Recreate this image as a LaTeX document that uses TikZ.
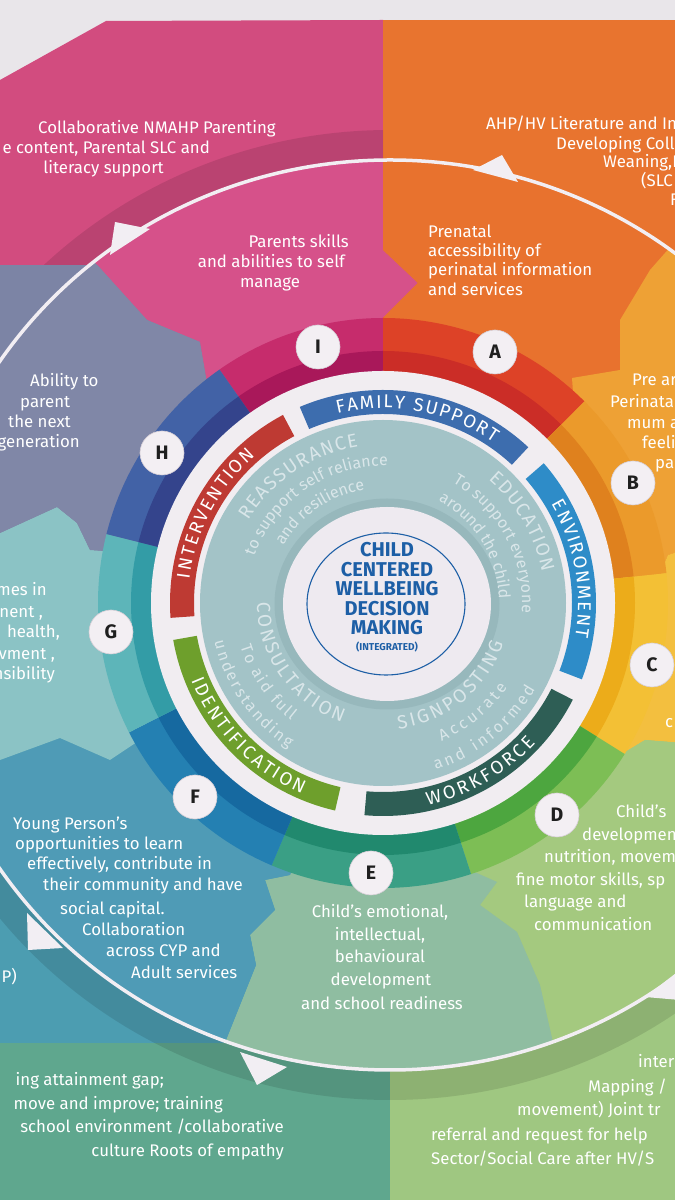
\documentclass[tikz,border=0pt]{standalone}
\usepackage{fontspec}
\setmainfont{Fira Sans}
\usetikzlibrary{decorations.text}
\definecolor{bgstrip}{HTML}{E9E6EA}
\definecolor{pinkout}{HTML}{D24C7F}
\definecolor{orangeout}{HTML}{E8742F}
\definecolor{greyout}{HTML}{7C84A5}
\definecolor{fout}{HTML}{4C9DB1}
\definecolor{eout}{HTML}{5FA78E}
\definecolor{dout}{HTML}{9FC781}
\definecolor{petI}{HTML}{D6518A}
\definecolor{petA}{HTML}{E8722E}
\definecolor{petB}{HTML}{EEA135}
\definecolor{petC}{HTML}{F3BF3F}
\definecolor{petD}{HTML}{A4C97F}
\definecolor{petE}{HTML}{8FBDA1}
\definecolor{petF}{HTML}{4F9BB6}
\definecolor{petG}{HTML}{8BC3C5}
\definecolor{petH}{HTML}{8087A7}
\definecolor{rIl}{HTML}{C62C6C}\definecolor{rId}{HTML}{A9185A}
\definecolor{rAl}{HTML}{DD4227}\definecolor{rAd}{HTML}{CB2D27}
\definecolor{rBl}{HTML}{EB9A2B}\definecolor{rBd}{HTML}{DF811E}
\definecolor{rCl}{HTML}{F3C035}\definecolor{rCd}{HTML}{ECAC1A}
\definecolor{rDl}{HTML}{7DBE55}\definecolor{rDd}{HTML}{4DA63F}
\definecolor{rEl}{HTML}{3A9F85}\definecolor{rEd}{HTML}{21896E}
\definecolor{rFl}{HTML}{2480B2}\definecolor{rFd}{HTML}{1669A0}
\definecolor{rGl}{HTML}{5DB5B9}\definecolor{rGd}{HTML}{339CA6}
\definecolor{rHl}{HTML}{4262A6}\definecolor{rHd}{HTML}{34448C}
\definecolor{diskwhite}{HTML}{F1EDF1}
\definecolor{tealring}{HTML}{A3C3C7}
\definecolor{tealshadow}{HTML}{8EAFB4}
\definecolor{centerfill}{HTML}{EEEAF0}
\definecolor{centerblue}{HTML}{1D5FA6}
\definecolor{bandFS}{HTML}{3D6DAE}
\definecolor{bandEN}{HTML}{2E8CC8}
\definecolor{bandWF}{HTML}{2E5E55}
\definecolor{bandID}{HTML}{6E9F2C}
\definecolor{bandIN}{HTML}{BE3A33}
\definecolor{tealtext}{HTML}{D9E6E9}
\definecolor{circfill}{HTML}{F3EFF3}
\definecolor{circline}{HTML}{D6CED6}
\definecolor{arrowwhite}{HTML}{F2EEF3}
\newcommand{\ptxt}{\fontsize{16.8}{20}\selectfont}
\newcommand{\bandfnt}{\fontsize{18.5}{19}\selectfont}
\newcommand{\bigfnt}{\fontsize{19}{20}\selectfont}
\newcommand{\subfnt}{\fontsize{16}{17}\selectfont}
\newcommand{\ringsec}[4]{%
  \fill[#3] (#1:285) arc[start angle=#1,end angle=#2,radius=285] -- (#2:230) arc[start angle=#2,end angle=#1,radius=230] -- cycle;
  \fill[#4] (#1:252) arc[start angle=#1,end angle=#2,radius=252] -- (#2:230) arc[start angle=#2,end angle=#1,radius=230] -- cycle;}
\newcommand{\bandsec}[3]{%
  \fill[#3] (#1:213) arc[start angle=#1,end angle=#2,radius=213] -- (#2:189) arc[start angle=#2,end angle=#1,radius=189] -- cycle;}
\newcommand{\outshadow}{\draw[black, opacity=0.11, line width=30pt] (390,615) ellipse [x radius=485, y radius=470];}
\tikzset{
  ptext/.style={text=white, font=\ptxt, inner sep=0pt},
  lettercircle/.style={circle, fill=circfill, draw=circline, line width=0.6pt, minimum size=44pt, inner sep=0pt, font=\bfseries\fontsize{19.5}{19.5}\selectfont, text=black!88},
  ctext/.style={anchor=base, text=centerblue, inner sep=0pt, font=\bfseries\fontsize{20}{20}\selectfont},
  arctext/.style 2 args={decorate, decoration={text along path, text={|#1|#2}, text align={fit to path}}},
  arrowtip/.style={fill=arrowwhite}
}
\begin{document}
\begin{tikzpicture}[x=1pt,y=1pt]
\useasboundingbox (0,0) rectangle (675,1200);
\clip (0,0) rectangle (675,1200);
% ---------- image-coordinate scope (y downward) ----------
\begin{scope}[shift={(0,1200)},yscale=-1]
  \fill[bgstrip] (0,0) rectangle (675,1200);
  \fill[pinkout] (0,80) -- (106,21) -- (383,20) -- (383,620) -- (0,620) -- cycle;
  \fill[orangeout] (383,20) -- (675,20) -- (675,620) -- (383,620) -- cycle;
  \fill[greyout] (0,265) rectangle (200,620);
  \fill[fout] (0,620) rectangle (390,1043);
  \fill[eout] (0,1043) rectangle (390,1200);
  \fill[dout] (390,700) rectangle (675,1200);
  % darker band just outside the big circle
  \begin{scope}
    \clip (0,80) -- (106,21) -- (383,20) -- (383,265) -- (0,265) -- cycle;
    \outshadow
  \end{scope}
  \begin{scope}
    \clip (0,620) rectangle (675,1200);
    \outshadow
  \end{scope}
  % petals
  \begin{scope}
    \clip (390,615) ellipse [x radius=470, y radius=455];
    \fill[petI] (383,603) -- (210,400) -- (200,342) -- (147,320) -- (100,268) -- (-100,60) -- (383,-100) -- (383,250) -- (418,283) -- (383,318) -- (383,330) -- cycle;
    \fill[petA] (383,603) -- (383,330) -- (383,318) -- (418,283) -- (383,250) -- (383,-100) -- (800,100) -- (650,270) -- (620,320) -- (620,370) -- (572,378) -- (575,420) -- cycle;
    \fill[petB] (383,603) -- (575,420) -- (572,378) -- (620,370) -- (620,320) -- (650,270) -- (800,100) -- (900,480) -- (668,555) -- (655,585) -- cycle;
    \fill[petC] (383,603) -- (655,585) -- (668,555) -- (900,480) -- (900,760) -- (645,740) -- (612,760) -- cycle;
    \fill[petD] (383,603) -- (612,760) -- (645,740) -- (900,760) -- (600,1250) -- (540,985) -- (517,932) -- (480,905) -- (497,882) -- (470,870) -- cycle;
    \fill[petE] (383,603) -- (470,870) -- (497,882) -- (480,905) -- (517,932) -- (540,985) -- (600,1250) -- (150,1250) -- (222,1050) -- (256,965) -- (250,935) -- (275,910) -- (265,880) -- (290,875) -- cycle;
    \fill[petF] (383,603) -- (290,875) -- (265,880) -- (275,910) -- (250,935) -- (256,965) -- (222,1050) -- (150,1250) -- (-200,820) -- (0,760) -- (60,738) -- (110,760) -- (140,740) -- cycle;
    \fill[petG] (383,603) -- (140,740) -- (110,760) -- (60,738) -- (0,760) -- (-200,820) -- (-200,530) -- (0,533) -- (57,507) -- (77,523) -- (90,550) -- (120,552) -- cycle;
    \fill[petH] (383,603) -- (120,552) -- (90,550) -- (77,523) -- (57,507) -- (0,533) -- (-200,530) -- (-100,60) -- (100,268) -- (147,320) -- (200,342) -- (210,400) -- cycle;
  \end{scope}
  \draw[arrowwhite, line width=3.5pt] (390,615) ellipse [x radius=470, y radius=455];
  \fill[arrowtip] (110,255) -- (150,229) -- (115,222) -- cycle;
  \fill[arrowtip] (473,170) -- (502,155) -- (518,182) -- cycle;
  \fill[arrowtip] (27,913) -- (28,950) -- (63,948) -- cycle;
  \fill[arrowtip] (240,1052) -- (287,1067) -- (257,1085) -- cycle;
  \fill[arrowtip] (645,997) -- (680,970) -- (680,1000) -- cycle;
\end{scope}
% ---------- circular scope centred on the wheel ----------
\begin{scope}[shift={(383,597)}]
  \ringsec{90}{125}{rIl}{rId}
  \ringsec{45}{90}{rAl}{rAd}
  \ringsec{6}{45}{rBl}{rBd}
  \ringsec{-32}{6}{rCl}{rCd}
  \ringsec{-72}{-32}{rDl}{rDd}
  \ringsec{-113}{-72}{rEl}{rEd}
  \ringsec{-153}{-113}{rFl}{rFd}
  \ringsec{166}{207}{rGl}{rGd}
  \ringsec{125}{166}{rHl}{rHd}
  \fill[diskwhite] (0,0) circle [radius=232];
  \bandsec{47}{113}{bandFS}
  \bandsec{-21}{41}{bandEN}
  \bandsec{-95}{-27}{bandWF}
  \bandsec{190}{257}{bandID}
  \bandsec{118}{184}{bandIN}
  \fill[tealring] (0,0) circle [radius=183];
  \draw[tealshadow, line width=9pt, opacity=0.55] (4,-1) ellipse [x radius=108, y radius=101];
  \fill[centerfill] (4,-1) ellipse [x radius=104, y radius=97];
  \draw[centerblue, line width=1.1pt] (3,-1) ellipse [x radius=79, y radius=71];
  % band labels
  \path[arctext={\color{white}\bandfnt}{FAMILY SUPPORT}] (103.5:195) arc [start angle=103.5, end angle=55.5, radius=195];
  \path[arctext={\color{white}\bandfnt}{ENVIRONMENT}] (30.5:195) arc [start angle=30.5, end angle=-10, radius=195];
  \path[arctext={\color{white}\bandfnt}{WORKFORCE}] (-77.5:207) arc [start angle=-77.5, end angle=-42.5, radius=207];
  \path[arctext={\color{white}\bandfnt}{IDENTIFICATION}] (202:207) arc [start angle=202, end angle=247, radius=207];
  \path[arctext={\color{white}\bandfnt}{INTERVENTION}] (173:195) arc [start angle=173, end angle=131, radius=195];
  % teal ring labels
  \path[arctext={\color{tealtext}\bigfnt}{REASSURANCE}] (148.5:158) arc [start angle=148.5, end angle=99, radius=158];
  \path[arctext={\color{tealtext}\subfnt}{to support self reliance}] (160:137) arc [start angle=160, end angle=88, radius=137];
  \path[arctext={\color{tealtext}\subfnt}{and resilience}] (150:115) arc [start angle=150, end angle=99, radius=115];
  \path[arctext={\color{tealtext}\bigfnt}{EDUCATION}] (49.5:162) arc [start angle=49.5, end angle=11, radius=162];
  \path[arctext={\color{tealtext}\subfnt}{To support everyone}] (60:139) arc [start angle=60, end angle=-4, radius=139];
  \path[arctext={\color{tealtext}\subfnt}{around the child}] (61.5:116) arc [start angle=61.5, end angle=2, radius=116];
  \path[arctext={\color{tealtext}\bigfnt}{CONSULTATION}] (180:126) arc [start angle=180, end angle=251, radius=126];
  \path[arctext={\color{tealtext}\subfnt}{To aid full}] (197:149) arc [start angle=197, end angle=232, radius=149];
  \path[arctext={\color{tealtext}\subfnt}{understanding}] (193:173) arc [start angle=193, end angle=237, radius=173];
  \path[arctext={\color{tealtext}\bigfnt}{SIGNPOSTING}] (-83:127) arc [start angle=-83, end angle=-18.5, radius=127];
  \path[arctext={\color{tealtext}\subfnt}{Accurate}] (-67:150) arc [start angle=-67, end angle=-34, radius=150];
  \path[arctext={\color{tealtext}\subfnt}{and informed}] (-72.5:175) arc [start angle=-72.5, end angle=-29.5, radius=175];
\end{scope}
% ---------- image scope again: letters and texts ----------
\begin{scope}[shift={(0,1200)},yscale=-1]
  \node[lettercircle] (lI) at (318,347) {I};
  \node[lettercircle] (lA) at (495,352) {A};
  \node[lettercircle] (lB) at (633,483) {B};
  \node[lettercircle] (lC) at (652,665) {C};
  \node[lettercircle] (lD) at (557,815) {D};
  \node[lettercircle] (lE) at (371,873) {E};
  \node[lettercircle] (lF) at (195,797) {F};
  \node[lettercircle] (lG) at (111,632) {G};
  \node[lettercircle] (lH) at (162,453) {H};
  % centre
  \node[ctext] (c1) at (387,557) {CHILD};
  \node[ctext] (c2) at (387,576.5) {CENTERED};
  \node[ctext] (c3) at (387,596) {WELLBEING};
  \node[ctext] (c4) at (387,615.5) {DECISION};
  \node[ctext] (c5) at (387,635) {MAKING};
  \node[ctext, font=\bfseries\fontsize{10}{10}\selectfont] (c6) at (387,651) {(INTEGRATED)};
  % top-left outer (pink)
  \node[ptext, anchor=mid west] (t1) at (38,131) {Collaborative NMAHP Parenting};
  \node[ptext, anchor=mid east] (t2) at (210,151) {e content, Parental SLC and};
  \node[ptext, anchor=mid east] (t3) at (164,171) {literacy support};
  % top-right outer (orange)
  \node[ptext, anchor=mid west] (u1) at (486,127) {AHP/HV Literature and In};
  \node[ptext, anchor=mid west] (u2) at (556,147) {Developing Colla};
  \node[ptext, anchor=mid west] (u3) at (603,165) {Weaning,I};
  \node[ptext, anchor=mid west] (u4) at (641,184) {(SLC};
  \node[ptext, anchor=mid west] (u5) at (670,203) {F};
  % petal I
  \node[ptext, anchor=mid east] (i1) at (349,245) {Parents skills};
  \node[ptext, anchor=mid east] (i2) at (345,265) {and abilities to self};
  \node[ptext, anchor=mid] (i3) at (270,285) {manage};
  % petal A
  \node[ptext, anchor=mid west] (a1) at (428,235) {Prenatal};
  \node[ptext, anchor=mid west] (a2) at (428,254) {accessibility of};
  \node[ptext, anchor=mid west] (a3) at (428,273) {perinatal information};
  \node[ptext, anchor=mid west] (a4) at (428,293) {and services};
  % petal B
  \node[ptext, anchor=mid west] (b1) at (632,383) {Pre ar};
  \node[ptext, anchor=mid west] (b2) at (610,405) {Perinatal};
  \node[ptext, anchor=mid west] (b3) at (627,426) {mum a};
  \node[ptext, anchor=mid west] (b4) at (642,446) {feeli};
  \node[ptext, anchor=mid west] (b5) at (655,466) {pa};
  % petal C
  \node[ptext, anchor=mid west] (cc1) at (665,725) {c};
  % petal D
  \node[ptext, anchor=mid west] (d1) at (616,815) {Child's};
  \node[ptext, anchor=mid west] (d2) at (582,838) {developmen};
  \node[ptext, anchor=mid west] (d3) at (544,860) {nutrition, movem};
  \node[ptext, anchor=mid west] (d4) at (516,883) {fine motor skills, sp};
  \node[ptext, anchor=mid west] (d5) at (524,905) {language and};
  \node[ptext, anchor=mid west] (d6) at (534,928) {communication};
  % petal E
  \node[ptext, anchor=mid] (e1) at (380,915) {Child's emotional,};
  \node[ptext, anchor=mid] (e2) at (380,938) {intellectual,};
  \node[ptext, anchor=mid] (e3) at (380,960) {behavioural};
  \node[ptext, anchor=mid] (e4) at (381,983) {development};
  \node[ptext, anchor=mid] (e5) at (382,1007) {and school readiness};
  % petal F
  \node[ptext, anchor=mid west] (f1) at (13,827) {Young Person's};
  \node[ptext, anchor=mid west] (f2) at (15,847) {opportunities to learn};
  \node[ptext, anchor=mid west] (f3) at (27,867) {effectively, contribute in};
  \node[ptext, anchor=mid west] (f4) at (43,888) {their community and have};
  \node[ptext, anchor=mid west] (f5) at (60,912) {social capital.};
  \node[ptext, anchor=mid west] (f6) at (82,933) {Collaboration};
  \node[ptext, anchor=mid west] (f7) at (106,954) {across CYP and};
  \node[ptext, anchor=mid west] (f8) at (131,976) {Adult services};
  \node[ptext, anchor=mid east] (f9) at (17,980) {P)};
  % petal G
  \node[ptext, anchor=mid east] (g1) at (47,593) {mes in};
  \node[ptext, anchor=mid east] (g2) at (43,615) {nent ,};
  \node[ptext, anchor=mid east] (g3) at (60,635) {health,};
  \node[ptext, anchor=mid east] (g4) at (55,657) {vment ,};
  \node[ptext, anchor=mid east] (g5) at (55,677) {nsibility};
  % petal H
  \node[ptext, anchor=mid west] (h1) at (30,384) {Ability to};
  \node[ptext, anchor=mid west] (h2) at (20,405) {parent};
  \node[ptext, anchor=mid west] (h3) at (8,425) {the next};
  \node[ptext, anchor=mid east] (h4) at (80,445) {generation};
  % bottom-left outer
  \node[ptext, anchor=mid east] (bl1) at (164,1083) {ing attainment gap;};
  \node[ptext, anchor=mid east] (bl2) at (223,1107) {move and improve; training};
  \node[ptext, anchor=mid east] (bl3) at (284,1130) {school environment /collaborative};
  \node[ptext, anchor=mid east] (bl4) at (284,1154) {culture Roots of empathy};
  % bottom-right outer
  \node[ptext, anchor=mid west] (br1) at (638,1065) {inter};
  \node[ptext, anchor=mid west] (br2) at (588,1090) {Mapping /};
  \node[ptext, anchor=mid west] (br3) at (517,1113) {movement) Joint tr};
  \node[ptext, anchor=mid west] (br4) at (431,1138) {referral and request for help};
  \node[ptext, anchor=mid west] (br5) at (431,1162) {Sector/Social Care after HV/S};
\end{scope}
\end{tikzpicture}
\end{document}
